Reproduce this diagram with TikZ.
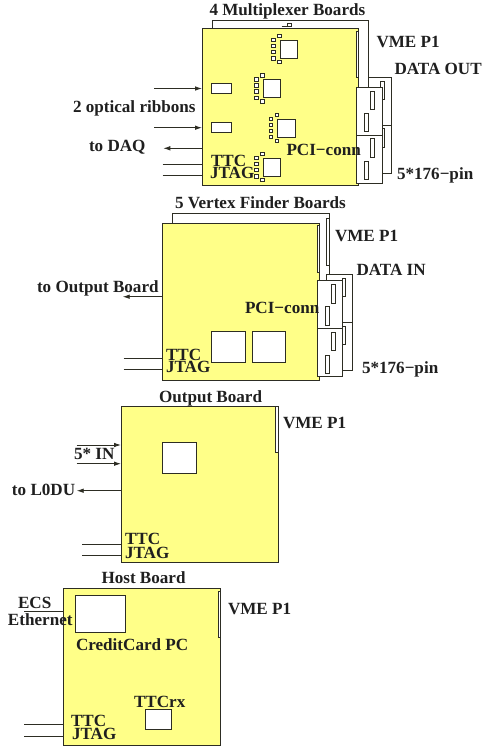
\documentclass[tikz,border=0pt]{standalone}
\usepackage{fontspec}
\setmainfont{Liberation Serif}
\usetikzlibrary{arrows.meta,calc}
\definecolor{boardyellow}{RGB}{255,255,136}
\definecolor{edgegray}{RGB}{45,45,35}
\tikzset{
  x=1pt,y=-1pt,
  every node/.style={inner sep=0pt,outer sep=0pt},
  wire/.style={line width=0.9pt,draw=edgegray},
  sig/.style={wire,-{Latex[length=7pt,width=4.6pt]}},
  board/.style={draw=edgegray,line width=1pt,fill=boardyellow,anchor=north west},
  whitebox/.style={draw=edgegray,line width=0.9pt,fill=white,anchor=north west},
  outlinebox/.style={draw=edgegray,line width=0.8pt,fill=white,anchor=north west},
  pad/.style={draw=edgegray,line width=0.8pt,fill=white,minimum width=3.4pt,minimum height=3.4pt,anchor=center},
  lab/.style={font=\bfseries\fontsize{17.1}{17.1}\selectfont,text=black!88,anchor=base west},
  chip/.pic={
    \node[whitebox,minimum width=17.5pt,minimum height=18pt] (-c) at (0,0) {};
    \node[pad] (-t) at (-1,-4.3) {};
    \node[pad] (-b) at (-1,21.7) {};
    \node[pad] (-l1) at (-7,-0.3) {};
    \node[pad] (-l2) at (-7,5.7) {};
    \node[pad] (-l3) at (-7,11.7) {};
    \node[pad] (-l4) at (-7,18) {};
  }
}
\newcommand{\wbox}[6][whitebox]{% style, name, x, y, w, h
  \node[#1,minimum width=#5pt,minimum height=#6pt] (#2) at (#3,#4) {};}
\begin{document}
\begin{tikzpicture}
\useasboundingbox (0,0) rectangle (488,748);
% ---------- Multiplexer board ----------
\coordinate (mb1) at (212,28);
\coordinate (mb2) at (212,20);
\coordinate (mb3) at (368.7,20);
\coordinate (mb4) at (368.7,77);
\draw[wire] (mb1) -- (mb2) -- (mb3) -- (mb4);
\wbox[outlinebox]{mbackcon}{368.7}{77}{23}{96}
\coordinate (mbackL) at (368.7,125);
\coordinate (mbackR) at (391.7,125);
\draw[wire] (mbackL) -- (mbackR);
\wbox[outlinebox]{mbs1}{380.7}{81}{4}{18}
\wbox[outlinebox]{mbs2}{380.7}{128}{4}{19}
\wbox[board]{mux}{202}{28}{156.7}{157}
\wbox[outlinebox]{mcon}{356.7}{87}{25.3}{96}
\coordinate (mconL) at (356.7,135);
\coordinate (mconR) at (382,135);
\draw[wire] (mconL) -- (mconR);
\wbox[outlinebox]{ms1}{370.7}{91}{4}{18}
\wbox[outlinebox]{ms2}{364}{113}{4}{18}
\wbox[outlinebox]{ms3}{370.7}{138}{4}{19}
\wbox[outlinebox]{ms4}{364}{161}{4}{18}
\wbox[outlinebox]{mvme}{356}{31}{2.7}{46}
\wbox[whitebox]{mrib1}{211.3}{83.3}{20.4}{10.4}
\wbox[whitebox]{mrib2}{211.3}{122.7}{20.4}{10}
\pic (chA) at (280.3,40.3) {chip};
\pic (chB) at (263.3,79.7) {chip};
\pic (chC) at (277.7,119) {chip};
\pic (chD) at (263.3,158.3) {chip};
\node[pad] (mtoppad) at (289.3,25) {};
\coordinate (mtopdash) at (281.7,26.3);
\draw[wire] (mtopdash) -- (mtoppad.west |- mtopdash);
\coordinate (ma1) at (154,88.5);
\coordinate (ma2) at (154,127.7);
\coordinate (ma3) at (163.3,148.3);
\coordinate (ma4) at (162.7,164.3);
\coordinate (ma5) at (162.7,175.7);
\draw[sig] (ma1) -- (mux.west |- ma1);
\draw[sig] (ma2) -- (mux.west |- ma2);
\draw[sig] (mux.west |- ma3) -- (ma3);
\draw[wire] (ma4) -- (mux.west |- ma4);
\draw[wire] (ma5) -- (mux.west |- ma5);
\coordinate (mpin) at (391.7,173);
\draw[wire] (mcon.east |- mpin) -- (mpin);
\node[lab] (t1) at (209.5,15) {4 Multiplexer Boards};
\node[lab] (t2) at (376.5,47) {VME P1};
\node[lab] (t3) at (394.5,74.5) {DATA OUT};
\node[lab] (t4) at (73,112.5) {2 optical ribbons};
\node[lab] (t5) at (89,151) {to DAQ};
\node[lab] (t6) at (211,166) {TTC};
\node[lab] (t7) at (210,178) {JTAG};
\node[lab] (t8) at (286.5,155) {PCI−conn};
\node[lab] (t9) at (397,179) {5*176−pin};
% ---------- Vertex finder board ----------
\coordinate (vb1) at (172.7,223.3);
\coordinate (vb2) at (172.7,213.3);
\coordinate (vb3) at (329.3,213.3);
\coordinate (vb4) at (329.3,274.3);
\draw[wire] (vb1) -- (vb2) -- (vb3) -- (vb4);
\wbox[outlinebox]{vvmeb}{326.7}{218.3}{2.6}{46.7}
\wbox[outlinebox]{vbackcon}{326.7}{274.3}{25.6}{96}
\coordinate (vbackL) at (326.7,322.7);
\coordinate (vbackR) at (352.3,322.7);
\draw[wire] (vbackL) -- (vbackR);
\wbox[outlinebox]{vbs1}{342.3}{278.3}{3.4}{18.4}
\wbox[outlinebox]{vbs2}{342.3}{326.7}{3.4}{17.6}
\wbox[board]{vtx}{162.7}{223.3}{156.6}{156.7}
\wbox[outlinebox]{vcon}{317}{280}{25.7}{96}
\coordinate (vconL) at (317,328.3);
\coordinate (vconR) at (342.7,328.3);
\draw[wire] (vconL) -- (vconR);
\wbox[outlinebox]{vs1}{331.7}{284.3}{4}{19}
\wbox[outlinebox]{vs2}{325.3}{306.7}{4}{18.3}
\wbox[outlinebox]{vs3}{331.7}{332.3}{4}{18.4}
\wbox[outlinebox]{vs4}{325.3}{355}{4}{18}
\wbox[outlinebox]{vvme}{317}{225.7}{2.3}{46.6}
\wbox[whitebox]{vchip1}{211.7}{331.3}{33.3}{30.7}
\wbox[whitebox]{vchip2}{252}{331.3}{33.7}{30.7}
\coordinate (va1) at (122.7,296.7);
\coordinate (va2) at (123.7,358.3);
\coordinate (va3) at (123.7,369.3);
\draw[sig] (vtx.west |- va1) -- (va1);
\draw[wire] (va2) -- (vtx.west |- va2);
\draw[wire] (va3) -- (vtx.west |- va3);
\coordinate (vpin) at (352.3,370.3);
\draw[wire] (vcon.east |- vpin) -- (vpin);
\node[lab] (u1) at (175,208.5) {5 Vertex Finder Boards};
\node[lab] (u2) at (335,241) {VME P1};
\node[lab] (u3) at (356.5,275.5) {DATA IN};
\node[lab] (u4) at (37,292) {to Output Board};
\node[lab] (u5) at (245,313) {PCI−conn};
\node[lab] (u6) at (166,360.5) {TTC};
\node[lab] (u7) at (166,372.5) {JTAG};
\node[lab] (u8) at (362,373) {5*176−pin};
% ---------- Output board ----------
\wbox[board]{out}{121}{406}{157}{156.7}
\wbox[outlinebox]{ovme}{275.7}{406}{2.3}{46.7}
\wbox[whitebox]{ochip}{162.7}{442.7}{33.3}{30.6}
\coordinate (oa1) at (76.7,445);
\coordinate (oa2) at (76.7,463.7);
\coordinate (oa3) at (76.7,490.7);
\coordinate (oa4) at (82,544.3);
\coordinate (oa5) at (82,555.7);
\draw[sig] (oa1) -- (out.west |- oa1);
\draw[sig] (oa2) -- (out.west |- oa2);
\draw[sig] (out.west |- oa3) -- (oa3);
\draw[wire] (oa4) -- (out.west |- oa4);
\draw[wire] (oa5) -- (out.west |- oa5);
\node[lab] (v1) at (159,402) {Output Board};
\node[lab] (v2) at (283,428) {VME P1};
\node[lab] (v3) at (74,459) {5* IN};
\node[lab] (v4) at (12,495) {to L0DU};
\node[lab] (v5) at (125,544.5) {TTC};
\node[lab] (v6) at (125,558.5) {JTAG};
% ---------- Host board ----------
\wbox[board]{host}{63.3}{588.3}{157}{157}
\wbox[outlinebox]{hvme}{218}{591}{2.3}{46.7}
\wbox[whitebox]{hpc}{75.3}{595.7}{49.7}{37}
\wbox[whitebox]{httc}{145.3}{709.7}{26.4}{20}
\coordinate (ha1) at (24.3,611.7);
\coordinate (ha2) at (24.3,724.7);
\coordinate (ha3) at (24.3,736);
\draw[wire] (ha1) -- (host.west |- ha1);
\draw[wire] (ha2) -- (host.west |- ha2);
\draw[wire] (ha3) -- (host.west |- ha3);
\node[lab] (w1) at (101.5,583) {Host Board};
\node[lab] (w2) at (228,614) {VME P1};
\node[lab] (w3) at (18,608) {ECS};
\node[lab] (w4) at (8,625) {Ethernet};
\node[lab] (w5) at (76,650) {CreditCard PC};
\node[lab] (w6) at (134,707) {TTCrx};
\node[lab] (w7) at (71,726) {TTC};
\node[lab] (w8) at (72,739) {JTAG};
\end{tikzpicture}
\end{document}
